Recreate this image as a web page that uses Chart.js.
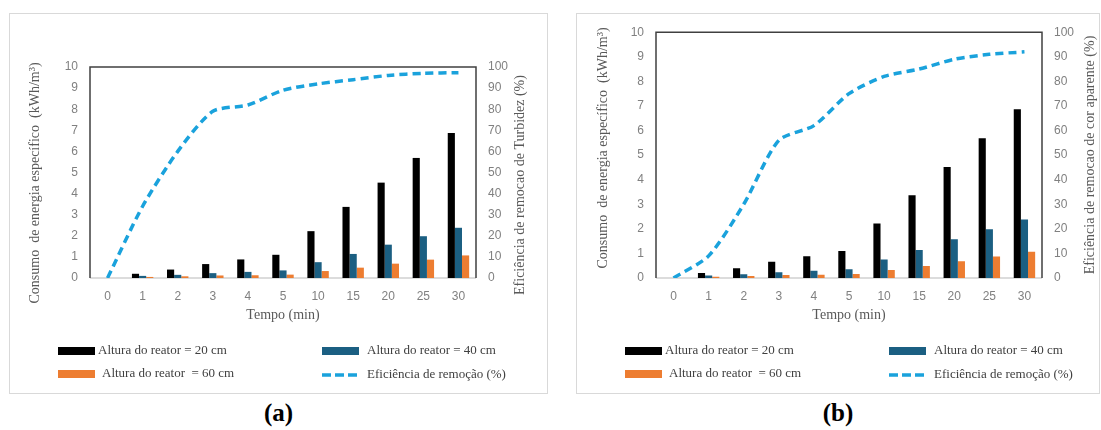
<!DOCTYPE html>
<html>
<head>
<meta charset="utf-8">
<script src="https://cdn.jsdelivr.net/npm/chart.js@4.4.1/dist/chart.umd.min.js"></script>
<style>
    body { margin: 0; background: #fff; width: 1101px; height: 430px; overflow: hidden; position: relative; }
    .painel { position: absolute; top: 13px; height: 381px; border: 1px solid #d9d9d9; box-sizing: border-box; }
    .painel canvas { position: absolute; left: -1px; top: -1px; }
    .rotulo { position: absolute; top: 398px; height: 30px; line-height: 30px; text-align: center;
              font-family: "Liberation Serif", "Times New Roman", serif; font-weight: bold; font-size: 25px; color: #000; }
</style>
</head>
<body>
<div class="painel" id="painel-a" style="left: 9px; width: 539px;"><canvas id="grafico-a" width="539" height="382"></canvas></div>
<div class="painel" id="painel-b" style="left: 576px; width: 524px;"><canvas id="grafico-b" width="524" height="382"></canvas></div>
<div class="rotulo" style="left: 9px; width: 539px;">(a)</div>
<div class="rotulo" style="left: 576px; width: 524px;">(b)</div>

<script>
// Tempo (min) - categorias do eixo x
const tempos = ['0', '1', '2', '3', '4', '5', '10', '15', '20', '25', '30'];

// Consumo de energia especifico (kWh/m3) por altura do reator
const energia20 = [0, 0.2, 0.4, 0.66, 0.88, 1.1, 2.22, 3.37, 4.52, 5.69, 6.87];
const energia40 = [0, 0.1, 0.15, 0.23, 0.29, 0.36, 0.75, 1.14, 1.58, 1.98, 2.38];
const energia60 = [0, 0.05, 0.08, 0.12, 0.13, 0.16, 0.33, 0.49, 0.68, 0.87, 1.07];

// Eficiencia de remocao (%)
const remocaoTurbidez = [0, 34, 60, 79, 82, 89, 92, 94, 96, 97, 97.3];
const remocaoCor = [0, 9, 30, 56, 62, 75, 82, 85, 89, 91, 92];

const serif = '"Liberation Serif", "Times New Roman", serif';
const sans = '"Liberation Sans", Arial, sans-serif';

// Moldura da area do grafico (esquerda, topo, direita escuros; base cinza)
const molduraPlugin = {
    id: 'moldura',
    beforeDatasetsDraw(chart) {
        const {ctx, chartArea: a} = chart;
        ctx.save();
        ctx.strokeStyle = '#d0d0d0';
        ctx.lineWidth = 1.5;
        ctx.beginPath();
        ctx.moveTo(a.left, a.bottom);
        ctx.lineTo(a.right, a.bottom);
        ctx.stroke();
        ctx.strokeStyle = '#404040';
        ctx.beginPath();
        ctx.moveTo(a.left, a.bottom);
        ctx.lineTo(a.left, a.top);
        ctx.lineTo(a.right, a.top);
        ctx.lineTo(a.right, a.bottom);
        ctx.stroke();
        ctx.restore();
    }
};

// Titulos dos eixos desenhados em posicoes fixas
const titulosPlugin = {
    id: 'titulos',
    afterDraw(chart, args, opts) {
        const ctx = chart.ctx;
        ctx.save();
        ctx.fillStyle = '#595959';
        ctx.font = '14px ' + serif;
        ctx.textAlign = 'center';
        ctx.textBaseline = 'middle';
        for (const t of opts.itens) {
            ctx.save();
            ctx.translate(t.x, t.y);
            if (t.rotacao) ctx.rotate(t.rotacao);
            ctx.fillText(t.texto, 0, 0);
            ctx.restore();
        }
        ctx.restore();
    }
};

// Legenda em duas colunas, como no original
const legendaPlugin = {
    id: 'legenda',
    afterDraw(chart, args, opts) {
        const ctx = chart.ctx;
        ctx.save();
        ctx.font = '13px ' + serif;
        ctx.fillStyle = '#404040';
        ctx.textBaseline = 'middle';
        chart.data.datasets.forEach((ds, i) => {
            const p = opts.posicoes[i];
            if (ds.type === 'line') {
                ctx.save();
                ctx.strokeStyle = ds.borderColor;
                ctx.lineWidth = 3.5;
                ctx.setLineDash([9, 4]);
                ctx.beginPath();
                ctx.moveTo(p.x, p.y);
                ctx.lineTo(p.x + 37, p.y);
                ctx.stroke();
                ctx.restore();
            } else {
                ctx.fillStyle = ds.backgroundColor;
                ctx.fillRect(p.x, p.y - 4, 37, 8);
            }
            ctx.fillStyle = '#404040';
            ctx.fillText(ds.label, p.tx, p.y);
        });
        ctx.restore();
    }
};

function criarGrafico(id, eficiencia, tituloDireito, area, titulos) {
    const canvas = document.getElementById(id);
    const tickFont = {family: sans, size: 12};

    return new Chart(canvas, {
        type: 'bar',
        data: {
            labels: tempos,
            datasets: [
                {label: 'Altura do reator = 20 cm', data: energia20, backgroundColor: '#000000', yAxisID: 'y', order: 1},
                {label: 'Altura do reator = 40 cm', data: energia40, backgroundColor: '#1b5f82', yAxisID: 'y', order: 1},
                {label: 'Altura do reator  = 60 cm', data: energia60, backgroundColor: '#ed7d31', yAxisID: 'y', order: 1},
                {
                    type: 'line',
                    label: 'Eficiência de remoção (%)',
                    data: eficiencia,
                    yAxisID: 'y1',
                    borderColor: '#1aa2dc',
                    borderWidth: 3.5,
                    borderDash: [8, 5],
                    pointRadius: 0,
                    tension: 0.25,
                    fill: false,
                    order: 0
                }
            ]
        },
        options: {
            responsive: false,
            animation: false,
            layout: {padding: {top: area.top, left: 0, right: 0, bottom: 0}},
            datasets: {bar: {categoryPercentage: 0.61, barPercentage: 1}},
            scales: {
                x: {
                    grid: {display: false, drawTicks: false},
                    border: {display: false},
                    ticks: {color: '#808080', font: tickFont, padding: 11},
                    afterFit: s => { s.height = area.xAltura; }
                },
                y: {
                    position: 'left',
                    min: 0,
                    max: 10,
                    grid: {display: false, drawTicks: false},
                    border: {display: false},
                    ticks: {stepSize: 1, color: '#808080', font: tickFont, padding: 12},
                    afterFit: s => { s.width = area.esquerda; }
                },
                y1: {
                    position: 'right',
                    min: 0,
                    max: 100,
                    grid: {display: false, drawTicks: false},
                    border: {display: false},
                    ticks: {stepSize: 10, color: '#808080', font: tickFont, padding: 12},
                    afterFit: s => { s.width = area.direita; }
                }
            },
            plugins: {
                legend: {display: false},
                tooltip: {enabled: false},
                titulos: {itens: titulos.concat([
                    {texto: 'Tempo (min)', x: area.centroX, y: 302}
                ]).map(t => t.texto === 'DIR' ? Object.assign({}, t, {texto: tituloDireito}) : t)},
                legenda: {posicoes: [
                    {x: 49, y: 338, tx: 89},
                    {x: 313, y: 338, tx: 358},
                    {x: 49, y: 361, tx: 93},
                    {x: 313, y: 362, tx: 358}
                ]}
            }
        },
        plugins: [molduraPlugin, titulosPlugin, legendaPlugin]
    });
}

const tituloEsquerdo = 'Consumo  de energia específico  (kWh/m³)';

criarGrafico('grafico-a', remocaoTurbidez, 'Eficiência de remocao de Turbidez (%)',
    {top: 54, esquerda: 81, direita: 539 - 467, xAltura: 382 - 265, centroX: 274},
    [
        {texto: tituloEsquerdo, x: 26, y: 170, rotacao: -Math.PI / 2},
        {texto: 'DIR', x: 511, y: 172, rotacao: -Math.PI / 2}
    ]);

criarGrafico('grafico-b', remocaoCor, 'Eficiência de remocao de cor aparente (%)',
    {top: 17, esquerda: 80, direita: 524 - 466, xAltura: 382 - 265, centroX: 273},
    [
        {texto: tituloEsquerdo, x: 27, y: 135, rotacao: -Math.PI / 2},
        {texto: 'DIR', x: 514, y: 142, rotacao: -Math.PI / 2}
    ]);
</script>
</body>
</html>
